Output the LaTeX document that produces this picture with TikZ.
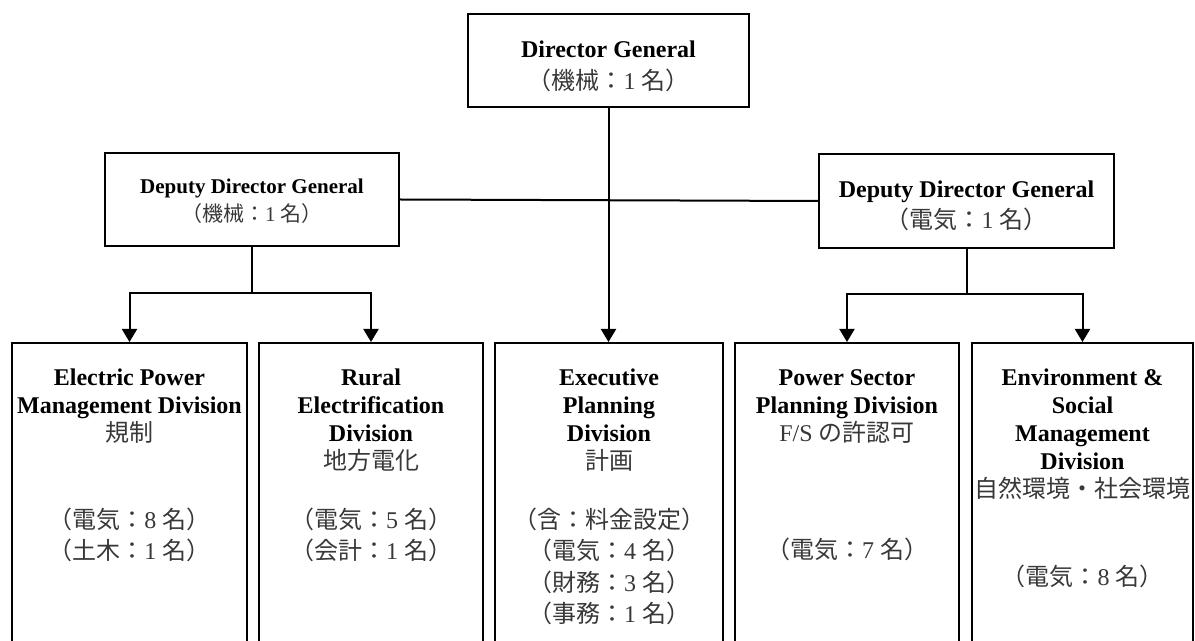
\documentclass[tikz,border=0pt]{standalone}
\usepackage{fontspec}
\setmainfont{Liberation Serif}
\newfontfamily\jpfont{Noto Sans CJK JP}
\usetikzlibrary{arrows.meta}
\colorlet{jpink}{black!78}
% Japanese run of text (thin Mincho-like tone)
\newcommand\jpt[1]{{\jpfont\color{jpink}#1}}
% staff count line: （field：n 名）
\newcommand\staff[2]{\jpt{（#1：}{\color{jpink}#2}\hspace{0.25em}\jpt{名）}}
% fixes the height of a block's first line
\newcommand\firstline{\rule{0pt}{12pt}}
\newcommand\hd[1]{\textbf{#1}}

\begin{document}
\begin{tikzpicture}[x=0.5pt,y=-0.5pt,
  box/.style={draw, line width=1pt, rectangle, inner sep=0pt},
  txt/.style={anchor=north, align=center, inner sep=0pt, font=\fontsize{12}{14}\selectfont},
  link/.style={line width=1pt},
  arr/.style={line width=1pt, -{Triangle[width=7.5pt,length=6.5pt]}}]
\useasboundingbox (0,0) rectangle (1195,641);
\clip (0,0) rectangle (1195,641);

% top level
\node[box, minimum width=140.5pt, minimum height=46.5pt] (dg) at (608.5,60.5) {};
\node[txt, font=\fontsize{12}{16}\selectfont] (dgt) at (608.5,33)
  {\firstline\hd{Director General}\\\staff{機械}{1}};

% deputies
\node[box, minimum width=147pt, minimum height=46.5pt] (ddgL) at (252,199.5) {};
\node[txt, font=\fontsize{10.5}{14}\selectfont] (ddgLt) at (252,169)
  {\firstline\hd{Deputy Director General}\\\staff{機械}{1}};

\node[box, minimum width=147.5pt, minimum height=47pt] (ddgR) at (966.5,201) {};
\node[txt, font=\fontsize{12}{15.5}\selectfont] (ddgRt) at (966.5,173)
  {\firstline\hd{Deputy Director General}\\\staff{電気}{1}};

% divisions (open at the bottom edge)
\node[box, minimum width=117.5pt, minimum height=178.5pt] (b1) at (129.5,521.5) {};
\node[box, minimum width=112pt,   minimum height=178.5pt] (b2) at (371,521.5) {};
\node[box, minimum width=114pt,   minimum height=178.5pt] (b3) at (609,521.5) {};
\node[box, minimum width=112pt,   minimum height=178.5pt] (b4) at (847,521.5) {};
\node[box, minimum width=110.5pt, minimum height=178.5pt] (b5) at (1082.5,521.5) {};

\node[txt] (b1t) at (129.5,361)
  {\firstline\hd{Electric Power}\\\hd{Management Division}\\\jpt{規制}\\[29.5pt]
   \staff{電気}{8}\\[1.75pt]\staff{土木}{1}};
\node[txt] (b2t) at (371,361)
  {\firstline\hd{Rural}\\\hd{Electrification}\\\hd{Division}\\\jpt{地方電化}\\[15.5pt]
   \staff{電気}{5}\\[1.75pt]\staff{会計}{1}};
\node[txt] (b3t) at (609,361)
  {\firstline\hd{Executive}\\\hd{Planning}\\\hd{Division}\\\jpt{計画}\\[15.5pt]
   \jpt{（含：料金設定）}\\[1.75pt]\staff{電気}{4}\\[1.75pt]\staff{財務}{3}\\[1.75pt]\staff{事務}{1}};
\node[txt] (b4t) at (847,361)
  {\firstline\hd{Power Sector}\\\hd{Planning Division}\\{\color{jpink}F/S} \jpt{の許認可}\\[44.5pt]
   \staff{電気}{7}};
\node[txt] (b5t) at (1082.5,361)
  {\firstline\hd{Environment \&}\\\hd{Social}\\\hd{Management}\\\hd{Division}\\\jpt{自然環境・社会環境}\\[30pt]
   \staff{電気}{8}};

% connectors
\coordinate (jL) at (252,293);
\coordinate (jR) at (966.5,294);
\draw[link] (ddgL.east) -- (ddgR.west);
\draw[arr] (dg.south) -- (dg.south |- b3.north);
\draw[link] (ddgL.south) -- (jL);
\draw[arr] (jL) -| (b1.north);
\draw[arr] (jL) -| (b2.north);
\draw[link] (ddgR.south) -- (jR);
\draw[arr] (jR) -| (b4.north);
\draw[arr] (jR) -| (b5.north);
\end{tikzpicture}
\end{document}
